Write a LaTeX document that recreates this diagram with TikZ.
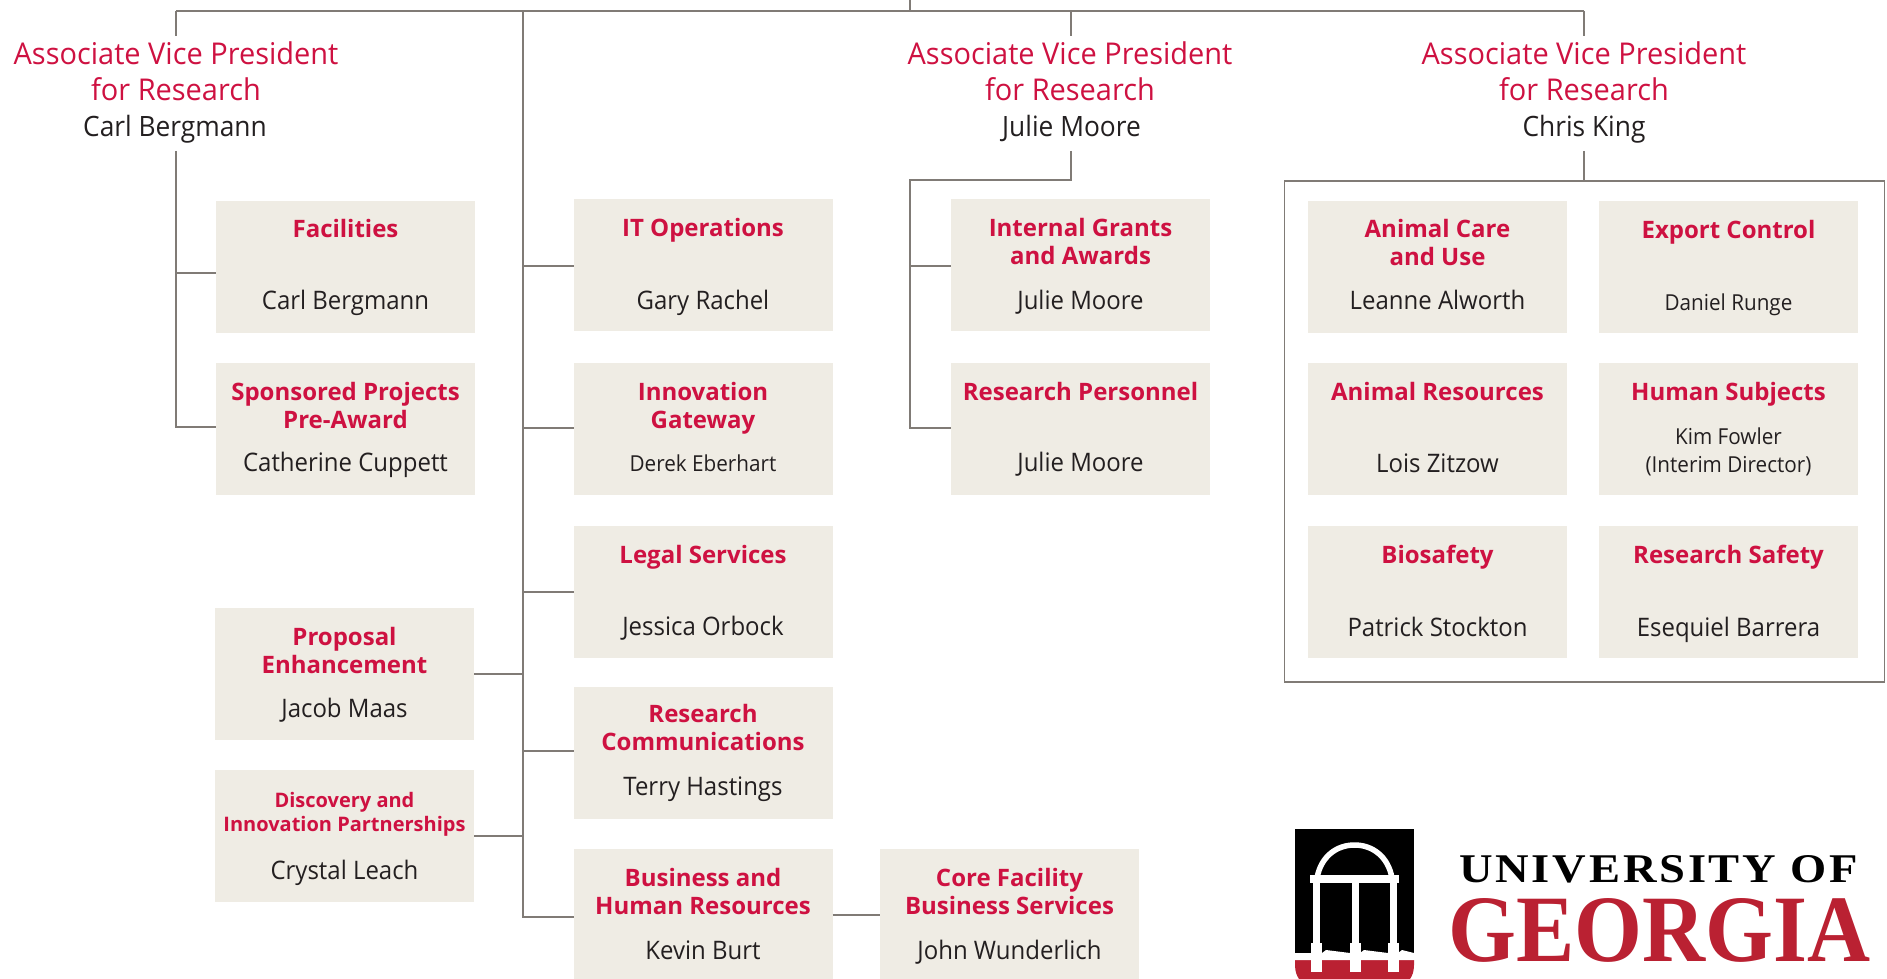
\documentclass[tikz,border=0pt]{standalone}
\usepackage{fontspec}
\setmainfont{Open Sans}
\newfontfamily\nameface{Open Sans}[FakeStretch=0.94]
\newfontfamily\avpface{Open Sans}[FakeStretch=0.965]
\newfontfamily\logofont{Liberation Serif}[BoldFont={* Bold}]
\definecolor{ugared}{HTML}{CE1141}
\definecolor{boxbg}{HTML}{EFECE4}
\definecolor{inktext}{HTML}{231F20}
\definecolor{linegrey}{HTML}{807B76}
\definecolor{logored}{HTML}{BA2132}
\tikzset{
  unitbox/.style={fill=boxbg,draw=none,minimum width=259pt,minimum height=132pt,inner sep=0pt,outer sep=0pt},
  textbase/.style={align=center,inner sep=0pt,yshift=-3pt},
  unittitle/.style={textbase,text=ugared,font=\fontsize{24}{28}\selectfont\bfseries},
  unittitlesmall/.style={textbase,text=ugared,font=\fontsize{20}{24}\selectfont\bfseries},
  person/.style={textbase,text=inktext,font=\nameface\fontsize{25.5}{28}\selectfont},
  personsmall/.style={textbase,text=inktext,font=\nameface\fontsize{22}{28}\selectfont},
  avptitle/.style={textbase,text=ugared,font=\avpface\fontsize{30}{36}\selectfont},
  avpname/.style={textbase,text=inktext,font=\nameface\fontsize{28}{36}\selectfont},
  conn/.style={draw=linegrey,line width=1.5pt},
}
% id, cx, top, title style, title, title y, person style, person, person y
\newcommand{\unitnode}[9]{%
  \node[unitbox,anchor=north] (#1) at (#2,#3) {};
  \node[#4] (#1t) at (#2,#6) {\strut #5\strut};
  \node[#7] (#1p) at (#2,#9) {\strut #8\strut};
}
\begin{document}
\begin{tikzpicture}[x=1pt,y=-1pt]
\useasboundingbox (0,0) rectangle (1887,979);
% junctions
\coordinate (top) at (910,0);
\coordinate (topj) at (910,11);
\coordinate (jl) at (176,11);
\coordinate (jm) at (523,11);
\coordinate (jj) at (1071,11);
\coordinate (jc) at (1584,11);
\coordinate (mb) at (523,917);
% units
\unitnode{fac}{345.5}{201}{unittitle}{Facilities}{229}{person}{Carl Bergmann}{301}
\unitnode{spp}{345.5}{363}{unittitle}{Sponsored Projects\\Pre-Award}{406}{person}{Catherine Cuppett}{463}
\unitnode{pro}{344.5}{608}{unittitle}{Proposal\\Enhancement}{651}{person}{Jacob Maas}{709}
\unitnode{dip}{344.5}{770}{unittitlesmall}{Discovery and\\Innovation Partnerships}{812}{person}{Crystal Leach}{871}
\unitnode{ito}{703}{199}{unittitle}{IT Operations}{228}{person}{Gary Rachel}{301}
\unitnode{ing}{703}{363}{unittitle}{Innovation\\Gateway}{406}{personsmall}{Derek Eberhart}{463}
\unitnode{leg}{703}{526}{unittitle}{Legal Services}{555}{person}{Jessica Orbock}{627}
\unitnode{rco}{703}{687}{unittitle}{Research\\Communications}{728}{person}{Terry Hastings}{787}
\unitnode{bhr}{703}{849}{unittitle}{Business and\\Human Resources}{892}{person}{Kevin Burt}{951}
\unitnode{cor}{1009.5}{849}{unittitle}{Core Facility\\Business Services}{892}{person}{John Wunderlich}{951}
\unitnode{iga}{1080.5}{199}{unittitle}{Internal Grants\\and Awards}{242}{person}{Julie Moore}{301}
\unitnode{rpe}{1080.5}{363}{unittitle}{Research Personnel}{392}{person}{Julie Moore}{463}
\unitnode{aca}{1437.5}{201}{unittitle}{Animal Care\\and Use}{243}{person}{Leanne Alworth}{301}
\unitnode{exp}{1728.5}{201}{unittitle}{Export Control}{230}{personsmall}{Daniel Runge}{302}
\unitnode{are}{1437.5}{363}{unittitle}{Animal Resources}{392}{person}{Lois Zitzow}{464}
\unitnode{hsu}{1728.5}{363}{unittitle}{Human Subjects}{392}{personsmall}{Kim Fowler\\(Interim Director)}{450}
\unitnode{bio}{1437.5}{526}{unittitle}{Biosafety}{555}{person}{Patrick Stockton}{628}
\unitnode{rsa}{1728.5}{526}{unittitle}{Research Safety}{555}{person}{Esequiel Barrera}{628}
% AVP titles
\node[avptitle] (a1t) at (176,72) {\strut Associate Vice President\\for Research\strut};
\node[avpname] (a1n) at (175,126) {\strut Carl Bergmann\strut};
\node[avptitle] (a2t) at (1070,72) {\strut Associate Vice President\\for Research\strut};
\node[avpname] (a2n) at (1071.5,126) {\strut Julie Moore\strut};
\node[avptitle] (a3t) at (1584,72) {\strut Associate Vice President\\for Research\strut};
\node[avpname] (a3n) at (1584,126) {\strut Chris King\strut};
% group frame
\node[draw=linegrey,line width=1.5pt,minimum width=600pt,minimum height=501pt,anchor=north west,inner sep=0pt] (frame) at (1283.5,180) {};
% connectors
\draw[conn] (top) -- (topj);
\draw[conn] (jl) -- (jc);
\draw[conn] (jl) -- (176,36);
\draw[conn] (jj) -- (1071,36);
\draw[conn] (jc) -- (1584,36);
\draw[conn] (176,151) -- (176,427) -- (spp.west |- 0,427);
\draw[conn] (176,273) -- (fac.west |- 0,273);
\draw[conn] (jm) -- (mb) -- (bhr.west |- mb);
\draw[conn] (523,266) -- (ito.west |- 0,266);
\draw[conn] (523,428) -- (ing.west |- 0,428);
\draw[conn] (523,592) -- (leg.west |- 0,592);
\draw[conn] (523,751) -- (rco.west |- 0,751);
\draw[conn] (523,674) -- (pro.east |- 0,674);
\draw[conn] (523,836) -- (dip.east |- 0,836);
\draw[conn] (bhr.east |- 0,915) -- (cor.west |- 0,915);
\draw[conn] (1071,151) -- (1071,180) -- (910,180) -- (910,428) -- (rpe.west |- 0,428);
\draw[conn] (910,266) -- (iga.west |- 0,266);
\draw[conn] (1584,151) -- (frame.north -| 1584,0);
% logo
\fill[black] (1295,829) rectangle (1414,953);
\fill[logored] (1295,960) -- (1414,960) -- (1414,965) .. controls (1414,972) and (1412,976) .. (1410,979) -- (1299,979) .. controls (1297,976) and (1295,972) .. (1295,965) -- cycle;
\draw[white,line width=5.5pt] (1317,878) .. controls (1321,856) and (1337,845) .. (1354.5,845) .. controls (1372,845) and (1388,856) .. (1392,878);
\fill[white] (1310,875) rectangle (1399,882.5);
\foreach \cx in {1316,1355,1393}{
  \fill[white] (\cx-3.5,880) rectangle (\cx+3.5,944);
  \fill[white] (\cx-5.5,943) rectangle (\cx+5.5,972);
}
\fill[white] (1295,953) -- (1322,953) -- (1326,950) -- (1350,953) -- (1360,953) -- (1364,950) -- (1388,953) -- (1398,953) -- (1402,950) -- (1414,953) -- (1414,960) -- (1295,960) -- cycle;
\node[inner sep=0pt,anchor=west] (logotop) at (1459,869.5) {\resizebox{399pt}{27pt}{\logofont\fontsize{40}{44}\selectfont\bfseries\addfontfeature{LetterSpace=6}UNIVERSITY OF}};
\node[inner sep=0pt,anchor=west,text=logored] (logomain) at (1448,930) {\resizebox{422pt}{63pt}{\logofont\fontsize{94}{100}\selectfont\bfseries GEORGIA}};
\end{tikzpicture}
\end{document}
